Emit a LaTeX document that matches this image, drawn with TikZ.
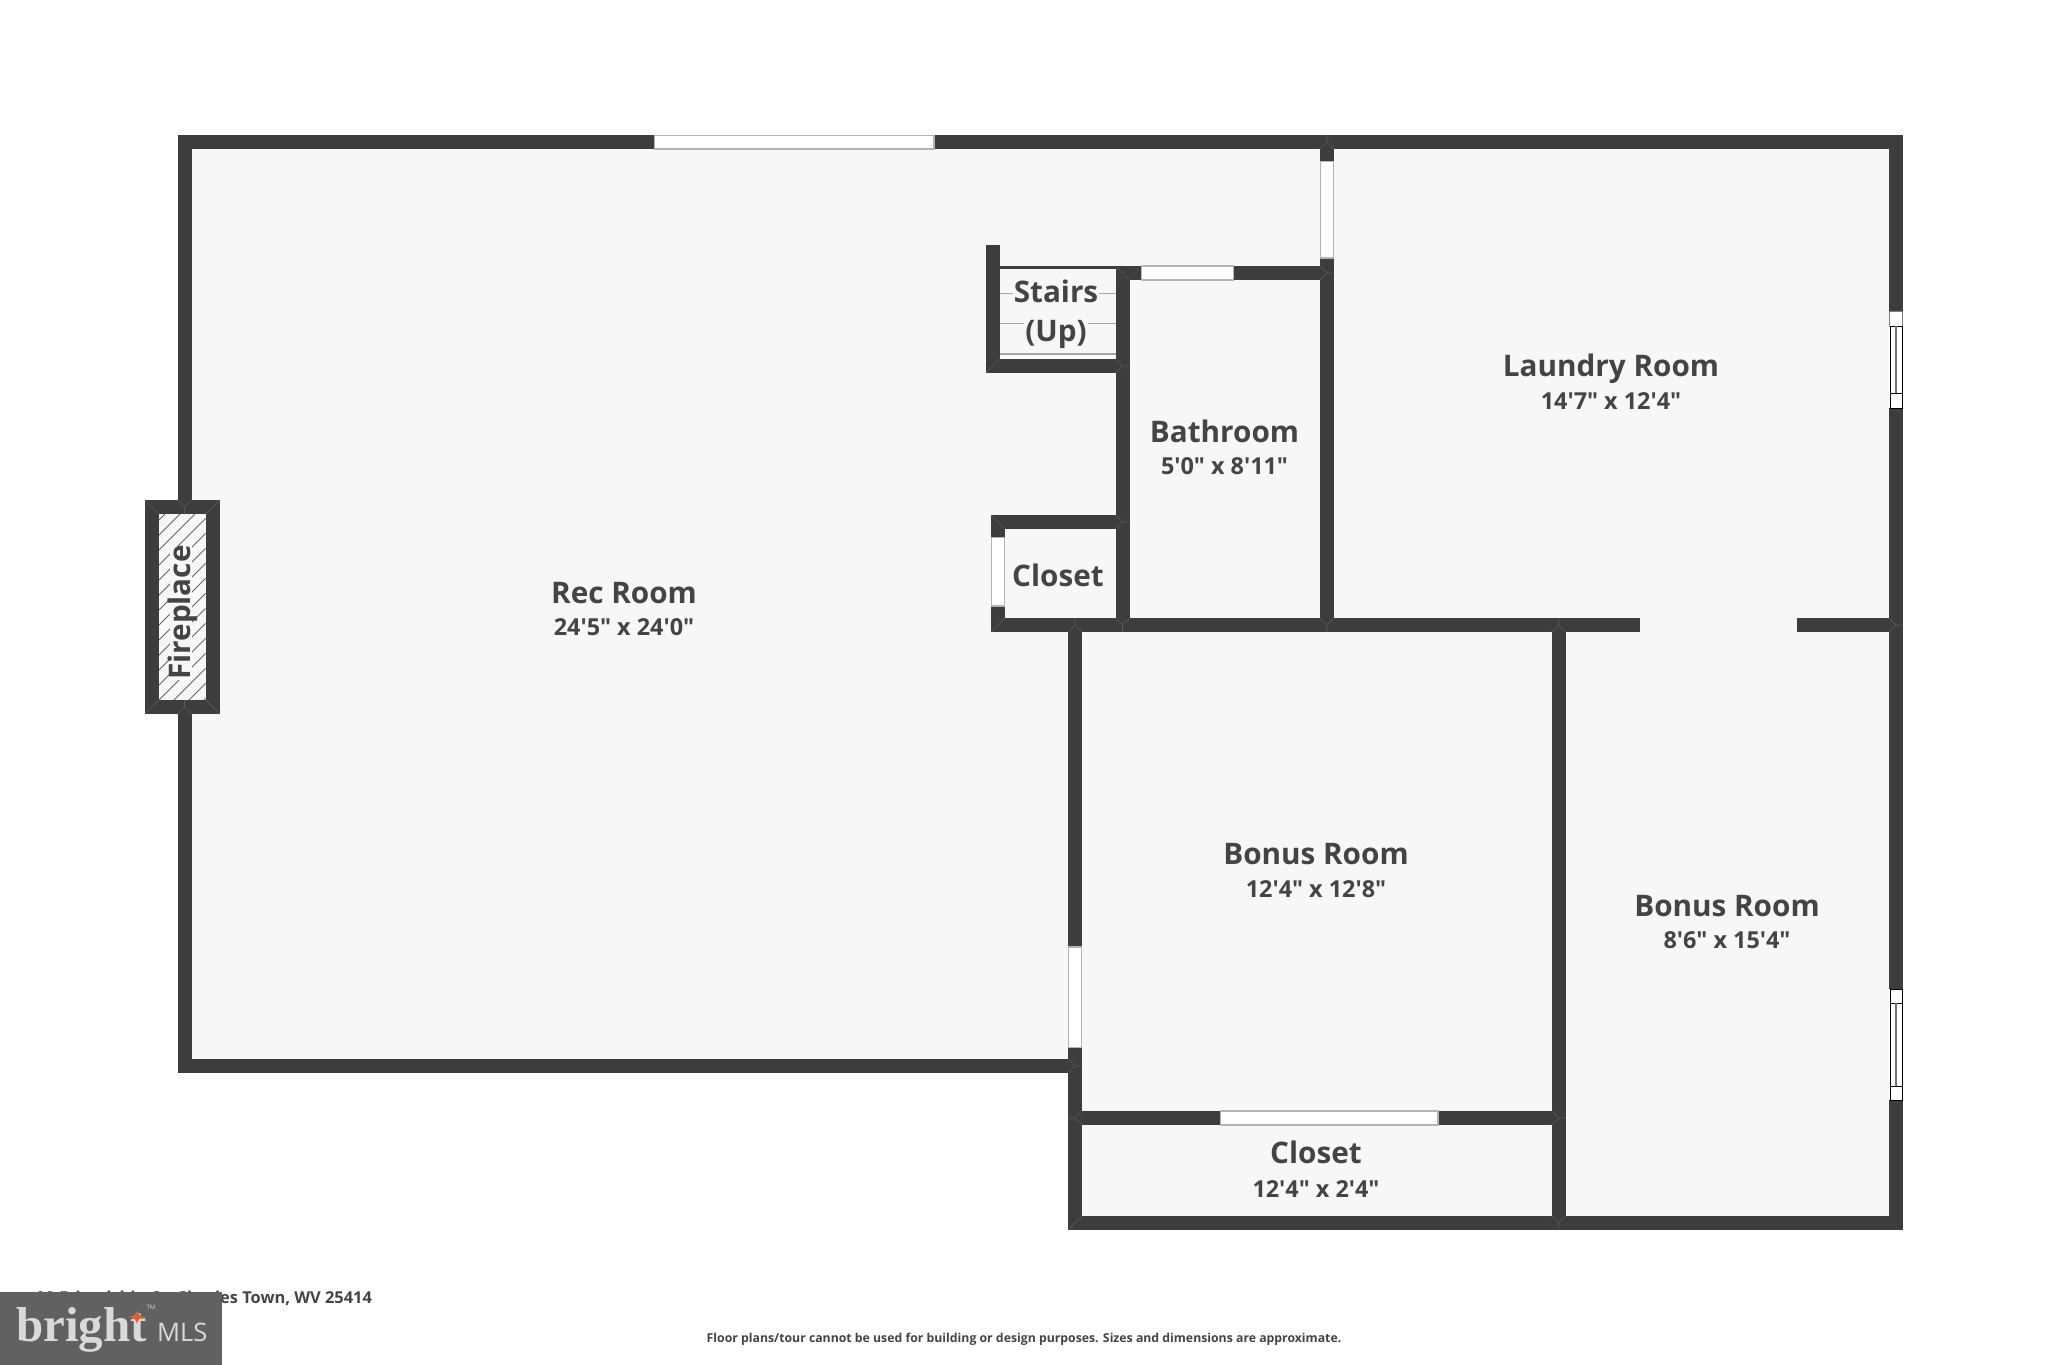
\documentclass[tikz,border=0pt]{standalone}
\usepackage{fontspec}
\newfontfamily\lab{Open Sans}
\newfontfamily\logoserif{Liberation Serif}
\newfontfamily\logosans{Open Sans}
\definecolor{wallc}{HTML}{3D3D3D}
\definecolor{floorc}{HTML}{F7F7F7}
\definecolor{textc}{HTML}{444444}
\definecolor{framec}{HTML}{B4B4B4}
\definecolor{logobg}{HTML}{616161}
\definecolor{logofg}{HTML}{D9D9D9}
\definecolor{logostar}{HTML}{D9623A}
\tikzset{
  wall/.style={draw=wallc,line width=14pt,line join=miter,line cap=butt},
  glass/.style={fill=white,draw=framec,line width=1.2pt},
  seamline/.style={draw=wallc!85!white,line width=0.6pt},
  tread/.style={draw=black!35,line width=1.4pt},
  roomname/.style={text=textc,anchor=base,inner sep=0pt,font=\lab\bfseries\fontsize{29.7}{32}\selectfont},
  roomsize/.style={text=textc,anchor=base,inner sep=0pt,font=\lab\bfseries\fontsize{23.4}{26}\selectfont},
  hatchline/.style={draw=black!60,line width=0.9pt},
  sashline/.style={draw=black,line width=1pt},
  midline/.style={draw=black!55,line width=1.4pt},
}
\newcommand{\teejoin}[3]{\draw[seamline,shift={(#1,#2)},rotate=#3] (0,-7)--(0,0) (-7,7)--(0,0)--(7,7);}
\begin{document}
\begin{tikzpicture}[x=1pt,y=-1pt]
\useasboundingbox (0,0) rectangle (2048,1365);
\fill[white] (0,0) rectangle (2048,1365);
% floor
\fill[floorc] (184.5,142) -- (1896,142) -- (1896,1223) -- (1075,1223) -- (1075,1066) -- (184.5,1066) -- cycle;
% stairs treads
\draw[tread] (1000,293.7) -- (1116,293.7);
\draw[tread] (1000,323.3) -- (1116,323.3);
\draw[tread] (1000,354) -- (1116,354);
\fill[white] (1000,355.5) rectangle (1116,359);
% walls
\draw[wall] (184.5,142) -- (1896,142) -- (1896,1223) -- (1075,1223) -- (1075,1066) -- (184.5,1066) -- cycle;
\draw[wall] (1327,142) -- (1327,625);
\draw[wall] (1115.5,273) -- (1327,273);
\draw[wall] (1122.5,266) -- (1122.5,625);
\draw[wall] (998,529) -- (998,522) -- (1122.5,522);
\draw[wall] (998,515) -- (998,625) -- (1640,625);
\draw[wall] (1797,625) -- (1896,625);
\draw[wall] (1075,625) -- (1075,1066);
\draw[wall] (1558.7,625) -- (1558.7,1223);
\draw[wall] (1075,1118) -- (1558.7,1118);
\draw[wall] (993,244.7) -- (993,365.7) -- (1122.5,365.7);
\fill[wallc] (1000,266) rectangle (1116,269.3);
% fireplace
\fill[floorc] (159,514) rectangle (205.7,700);
\begin{scope}
\clip (159,514) rectangle (205.7,700);
\foreach \k in {-195,-180,...,60}{\draw[hatchline] (159+\k,700) -- (159+\k+186,514);}
\end{scope}
\fill[floorc] (170,546) rectangle (192,680);
\draw[wall] (152,507) rectangle (212.6,707);
% windows
\draw[glass] (654.7,135.7) rectangle (934,149);
\draw[glass] (1320.3,161.3) rectangle (1333.7,258);
\draw[glass] (1141.7,266) rectangle (1233.3,280);
\draw[glass] (991.5,537.7) rectangle (1004.7,606);
\draw[glass] (1068.3,947) rectangle (1081.7,1047.7);
\draw[glass] (1220.3,1111) rectangle (1438,1125);
% side windows
\fill[white] (1889,311.7) rectangle (1903,408.3);
\draw[draw=black!50,line width=0.7pt] (1889.7,311.7) rectangle (1902.3,326);
\draw[sashline] (1890,326) rectangle (1902.5,408.3);
\draw[sashline] (1890,393) -- (1902.5,393);
\draw[midline] (1896,326) -- (1896,393);
\fill[white] (1889,989.3) rectangle (1903,1100);
\draw[sashline] (1890,989.3) rectangle (1902.5,1100);
\draw[sashline] (1890,1003.3) -- (1902.5,1003.3) (1890,1086) -- (1902.5,1086);
\draw[midline] (1896,1003.3) -- (1896,1086);
% seams
\teejoin{1327}{142}{0}
\teejoin{1327}{273}{-90}
\teejoin{1122.5}{365.7}{-90}
\teejoin{1122.5}{522}{-90}
\teejoin{1075}{625}{0}
\teejoin{1122.5}{625}{180}
\teejoin{1327}{625}{180}
\teejoin{1558.7}{625}{0}
\teejoin{1896}{625}{-90}
\teejoin{1075}{1066}{-90}
\teejoin{1075}{1118}{90}
\teejoin{1558.7}{1118}{-90}
\teejoin{1558.7}{1223}{180}
\teejoin{184.5}{507}{180}
\teejoin{184.5}{707}{0}
\draw[seamline] (1115.5,266) -- (1129.5,280) (986,372.7) -- (1000,358.7)
  (991,515) -- (1005,529) (991,632) -- (1005,618) (1068,1230) -- (1082,1216)
  (145,500) -- (159,514) (219.6,500) -- (205.6,514) (145,714) -- (159,700) (219.6,714) -- (205.6,700);
% room labels
\node[roomname] (recname) at (624,603) {Rec Room};
\node[roomsize] (recsize) at (624,635) {24'5" x 24'0"};
\node[roomname] (laundryname) at (1611,376) {Laundry Room};
\node[roomsize] (laundrysize) at (1611,409) {14'7" x 12'4"};
\node[roomname] (bathname) at (1224.5,442) {Bathroom};
\node[roomsize] (bathsize) at (1224.5,474) {5'0" x 8'11"};
\node[roomname] (bonusaname) at (1316,864) {Bonus Room};
\node[roomsize] (bonusasize) at (1316,897) {12'4" x 12'8"};
\node[roomname] (bonusbname) at (1727,916) {Bonus Room};
\node[roomsize] (bonusbsize) at (1727,948) {8'6" x 15'4"};
\node[roomname] (closetaname) at (1058,586) {Closet};
\node[roomname] (closetbname) at (1316,1163) {Closet};
\node[roomsize] (closetbsize) at (1316,1197) {12'4" x 2'4"};
\node[roomname,fill=floorc,inner sep=1pt] (stairsname) at (1056,302) {Stairs};
\node[roomname,fill=floorc,inner sep=1pt] (stairsup) at (1056,341.7) {(Up)};
\node[roomname,rotate=90] (fire) at (190,612.5) {Fireplace};
% captions
\node[text=textc,anchor=base west,inner sep=0pt,font=\lab\bfseries\fontsize{16.4}{18}\selectfont] (addr) at (36,1303) {99 Friendship Ct, Charles Town, WV 25414};
\node[text=textc,anchor=base,inner sep=0pt,font=\lab\bfseries\fontsize{12.27}{14}\selectfont] (note) at (1024,1342) {Floor plans/tour cannot be used for building or design purposes. Sizes and dimensions are approximate.};
% logo
\fill[logobg] (0,1292) rectangle (222,1365);
\node[text=logofg,anchor=base west,inner sep=0pt,font=\logoserif\bfseries\fontsize{49}{52}\selectfont] (bright) at (16,1341) {bright};
\node[text=logofg,anchor=base west,inner sep=0pt,font=\logosans\fontsize{25.5}{27}\selectfont] (mls) at (157,1341) {MLS};
\node[text=logofg,inner sep=0pt,font=\logosans\fontsize{6}{7}\selectfont] (tm) at (151,1307) {TM};
\fill[logostar] (127,1317) .. controls (134,1316.5) and (136,1315) .. (137,1310) .. controls (138,1315) and (140,1316.5) .. (147,1317) .. controls (140,1317.5) and (138,1319) .. (137,1324) .. controls (136,1319) and (134,1317.5) .. (127,1317) -- cycle;
\end{tikzpicture}
\end{document}
